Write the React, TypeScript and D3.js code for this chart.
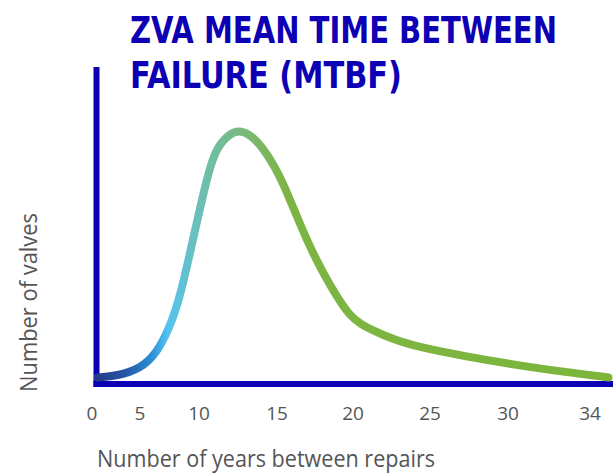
import { useRef, useEffect } from "react";
import * as d3 from "d3";

// tick labels on the x axis (years)
const xTicks = [0, 5, 10, 15, 20, 25, 30, 34];

// curve: years between repairs -> relative number of valves
const years = [
  0.6, 2.6, 5, 6.44, 7.54, 8.39, 9.24, 9.92, 10.38, 10.83, 11.35, 11.99, 12.5, 13.27,
  14.1, 14.87, 15.39, 16.32, 17.17, 18.03, 18.95, 19.8, 20.5, 21.3, 22.4, 24.16, 27.56,
  30.1, 32.05, 34, 34.9,
];
const valves = [
  2.6, 3.2, 5.9, 12.2, 22.5, 34.3, 51.7, 65.9, 77.7, 88.3, 95.0, 98.6, 100, 98.6,
  93.1, 85.6, 79.3, 65.9, 54.0, 43.8, 34.3, 26.8, 23.6, 21.2, 18.1, 14.6, 10.6, 7.9,
  5.5, 3.5, 2.6,
];

const title = ["ZVA MEAN TIME BETWEEN", "FAILURE (MTBF)"];
const xLabel = "Number of years between repairs";
const yLabel = "Number of valves";

const App = () => {
  const svgRef = useRef<SVGSVGElement>(null);

  useEffect(() => {
    const svg = d3.select(svgRef.current);
    svg.selectAll("*").remove();

    const width = 613;
    const height = 475;
    const axisColor = "#0d00b4";
    const textColor = "#555555";

    svg.attr("width", width).attr("height", height);

    // the tick labels are not evenly spaced in the original, so the x scale is piecewise
    const tickPos = [92, 140, 199, 277, 353, 430, 508, 590];
    const xScale = d3.scaleLinear().domain(xTicks).range(tickPos);
    const yScale = d3.scaleLinear().domain([0, 125]).range([384, 67]);

    const data = years.map((y, i) => ({ year: y, count: valves[i] }));

    // gradient along the curve
    const grad = svg
      .append("defs")
      .append("linearGradient")
      .attr("id", "curveGrad")
      .attr("gradientUnits", "userSpaceOnUse")
      .attr("x1", 96)
      .attr("x2", 610)
      .attr("y1", 0)
      .attr("y2", 0);
    const stops = [
      [96, "#263a86"],
      [125, "#2457a6"],
      [150, "#2b8bd2"],
      [168, "#55c4ef"],
      [190, "#66c0c6"],
      [215, "#72bd9e"],
      [245, "#79b978"],
      [285, "#7db545"],
      [610, "#7cb53a"],
    ];
    stops.forEach(([x, c]) => {
      grad
        .append("stop")
        .attr("offset", ((x as number) - 96) / (610 - 96))
        .attr("stop-color", c as string);
    });

    // axes: plain thick lines, no ticks
    svg
      .append("line")
      .attr("x1", 96.5)
      .attr("x2", 96.5)
      .attr("y1", 67)
      .attr("y2", 387)
      .attr("stroke", axisColor)
      .attr("stroke-width", 6);
    svg
      .append("line")
      .attr("x1", 93.5)
      .attr("x2", 613)
      .attr("y1", 384)
      .attr("y2", 384)
      .attr("stroke", axisColor)
      .attr("stroke-width", 6);

    const line = d3
      .line<{ year: number; count: number }>()
      .x((d) => xScale(d.year))
      .y((d) => yScale(d.count))
      .curve(d3.curveBasis);

    svg
      .append("path")
      .datum(data)
      .attr("d", line)
      .attr("fill", "none")
      .attr("stroke", "url(#curveGrad)")
      .attr("stroke-width", 8)
      .attr("stroke-linecap", "round");

    // tick labels
    svg
      .append("g")
      .selectAll("text")
      .data(xTicks)
      .join("text")
      .attr("x", (d) => xScale(d))
      .attr("y", 420)
      .attr("text-anchor", "middle")
      .attr("fill", textColor)
      .style("font-family", "'Open Sans', sans-serif")
      .style("font-size", "19px")
      .text((d) => d);

    // axis titles
    svg
      .append("text")
      .attr("x", 97)
      .attr("y", 467)
      .attr("fill", textColor)
      .attr("textLength", 338)
      .attr("lengthAdjust", "spacingAndGlyphs")
      .style("font-family", "'Open Sans', sans-serif")
      .style("font-size", "23px")
      .text(xLabel);

    svg
      .append("text")
      .attr("transform", "translate(37, 392) rotate(-90)")
      .attr("fill", textColor)
      .attr("textLength", 179)
      .attr("lengthAdjust", "spacingAndGlyphs")
      .style("font-family", "'Open Sans', sans-serif")
      .style("font-size", "23px")
      .text(yLabel);

    // chart title
    const titleWidths = [427, 272];
    title.forEach((t, i) => {
      svg
        .append("text")
        .attr("x", 130)
        .attr("y", 43 + i * 44.5)
        .attr("fill", axisColor)
        .attr("textLength", titleWidths[i])
        .attr("lengthAdjust", "spacingAndGlyphs")
        .style("font-family", "'Liberation Sans Narrow', 'DejaVu Sans Condensed', sans-serif")
        .style("font-weight", "bold")
        .style("font-size", "38px")
        .text(t);
    });
  }, []);

  return <svg ref={svgRef} style={{ display: "block", position: "absolute", left: 0, top: 0 }}></svg>;
};

export default App;
